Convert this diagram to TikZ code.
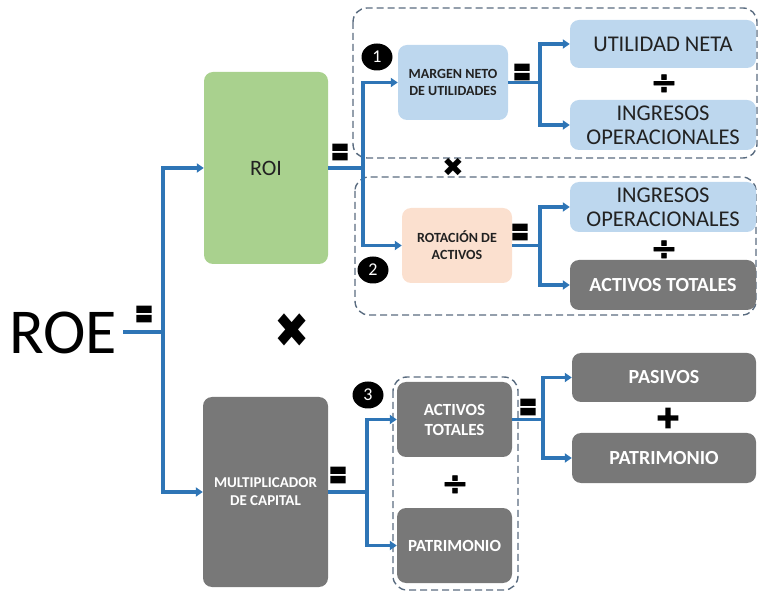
\documentclass[tikz,border=0pt]{standalone}
\usepackage{fontspec}
\setmainfont{Carlito}
\newfontfamily\symfont{DejaVu Sans}
\newfontfamily\symheavy[FakeBold=6]{DejaVu Sans Bold}
\newfontfamily\symdiv[FakeBold=2]{DejaVu Sans Bold}
\usetikzlibrary{arrows.meta,shapes.geometric}
\definecolor{lblue}{HTML}{BDD7EE}
\definecolor{lgreen}{HTML}{A9D18E}
\definecolor{peach}{HTML}{FBE0CF}
\definecolor{dgray}{HTML}{787878}
\definecolor{conblue}{HTML}{2E75B6}
\definecolor{dashcol}{HTML}{5A6C80}
\definecolor{txt}{HTML}{222222}
\tikzset{
  boxbase/.style={rounded corners=9pt, inner sep=2pt, align=center},
  bluebox/.style={boxbase, fill=lblue, text=txt},
  graybox/.style={boxbase, fill=dgray, text=white, font=\bfseries\fontsize{20}{22}\selectfont},
  conn/.style={draw=conblue, line width=3.2pt},
  arr/.style={conn, -{Triangle[length=7pt,width=9pt]}},
  group/.style={draw=dashcol, line width=1.4pt, dash pattern=on 7pt off 4pt, rounded corners=14pt},
  num/.style={ellipse, fill=black, text=white, minimum width=31pt, minimum height=27pt, inner sep=0pt, font=\fontsize{18}{18}\selectfont},
  eqs/.style={font=\symheavy\fontsize{22}{22}\selectfont, inner sep=0pt, yscale=1.9},
  divs/.style={font=\symdiv\fontsize{32}{32}\selectfont, inner sep=0pt},
  ops/.style={font=\symheavy\fontsize{30}{30}\selectfont, inner sep=0pt},
}
\begin{document}
\begin{tikzpicture}[x=1pt,y=-1pt]
\useasboundingbox (0,0) rectangle (758,593);

% dashed groups
\draw[group] (353,8) rectangle (757,158);
\draw[group] (355,177) rectangle (756,315);
\draw[group] (393,377) rectangle (518,590);

% main nodes
\node[inner sep=0pt, anchor=east, font=\fontsize{64}{64}\selectfont, text=black] (roe) at (117,333) {ROE};
\node[boxbase, fill=lgreen, text=txt, minimum width=124pt, minimum height=192pt, font=\fontsize{22}{24}\selectfont] (roi) at (266,168) {ROI};
\node[graybox, minimum width=125pt, minimum height=190pt, font=\bfseries\fontsize{15}{18}\selectfont] (mult) at (265.5,492) {MULTIPLICADOR\\DE CAPITAL};

\node[bluebox, minimum width=110pt, minimum height=75pt, font=\bfseries\fontsize{14}{17}\selectfont] (margen) at (453,82.5) {MARGEN NETO\\DE UTILIDADES};
\node[boxbase, fill=peach, text=txt, minimum width=110pt, minimum height=75pt, font=\bfseries\fontsize{14}{17}\selectfont] (rot) at (457,245.5) {ROTACIÓN DE\\ACTIVOS};

\node[bluebox, minimum width=186pt, minimum height=48pt, font=\fontsize{22.5}{24}\selectfont] (util) at (663,44) {UTILIDAD NETA};
\node[bluebox, minimum width=186pt, minimum height=50pt, font=\fontsize{22.5}{24}\selectfont] (ing1) at (663,125) {INGRESOS\\OPERACIONALES};
\node[bluebox, minimum width=186pt, minimum height=50pt, font=\fontsize{22.5}{24}\selectfont] (ing2) at (663,207) {INGRESOS\\OPERACIONALES};
\node[graybox, minimum width=186pt, minimum height=50pt] (act1) at (663,285) {ACTIVOS TOTALES};

\node[graybox, minimum width=115pt, minimum height=75pt, font=\bfseries\fontsize{17}{20}\selectfont] (act2) at (454.5,419.5) {ACTIVOS\\TOTALES};
\node[graybox, minimum width=115pt, minimum height=75pt, font=\bfseries\fontsize{17}{20}\selectfont] (pat1) at (454.5,545.5) {PATRIMONIO};

\node[graybox, minimum width=184pt, minimum height=49pt] (pas) at (664,377.5) {PASIVOS};
\node[graybox, minimum width=184pt, minimum height=50pt] (pat2) at (664,458) {PATRIMONIO};

% numbered markers
\node[num] (n1) at (377,57) {1};
\node[num] (n2) at (373,270) {2};
\node[num] (n3) at (368,395) {3};

% connectors
\coordinate (t0) at (123,332);
\coordinate (t1) at (163,332);
\draw[conn] (t0) -- (t1);
\draw[arr] (t1) |- (roi.west);
\draw[arr] (t1) |- (mult.west);

\coordinate (s1) at (363,168);
\draw[conn] (roi.east) -- (s1);
\draw[arr] (s1) |- (margen.west);
\draw[arr] (s1) |- (rot.west);

\coordinate (s2) at (540,82.5);
\draw[conn] (margen.east) -- (s2);
\draw[arr] (s2) |- (util.west);
\draw[arr] (s2) |- (ing1.west);

\coordinate (s3) at (540,245.5);
\draw[conn] (rot.east) -- (s3);
\draw[arr] (s3) |- (ing2.west);
\draw[arr] (s3) |- (act1.west);

\coordinate (s4) at (367,492);
\draw[conn] (mult.east) -- (s4);
\draw[arr] (s4) |- (act2.west);
\draw[arr] (s4) |- (pat1.west);

\coordinate (s5) at (543,419.5);
\draw[conn] (act2.east) -- (s5);
\draw[arr] (s5) |- (pas.west);
\draw[arr] (s5) |- (pat2.west);

% operators
\node[eqs] (e1) at (144,317) {=};
\node[eqs] (e2) at (340,155) {=};
\node[eqs] (e3) at (522,75) {=};
\node[eqs] (e4) at (520,235) {=};
\node[eqs] (e5) at (338,478) {=};
\node[eqs] (e6) at (528,410) {=};
\node[divs] (d1) at (664,84) {÷};
\node[divs] (d2) at (664,250) {÷};
\node[divs] (d3) at (455,485) {÷};
\node[ops] (p1) at (668,418) {+};
\node[font=\symfont\fontsize{26}{26}\selectfont, inner sep=0pt] (x1) at (453,167) {✖};
\node[font=\symfont\fontsize{42}{42}\selectfont, inner sep=0pt, yscale=1.15] (x2) at (292,331) {✖};
\end{tikzpicture}
\end{document}
